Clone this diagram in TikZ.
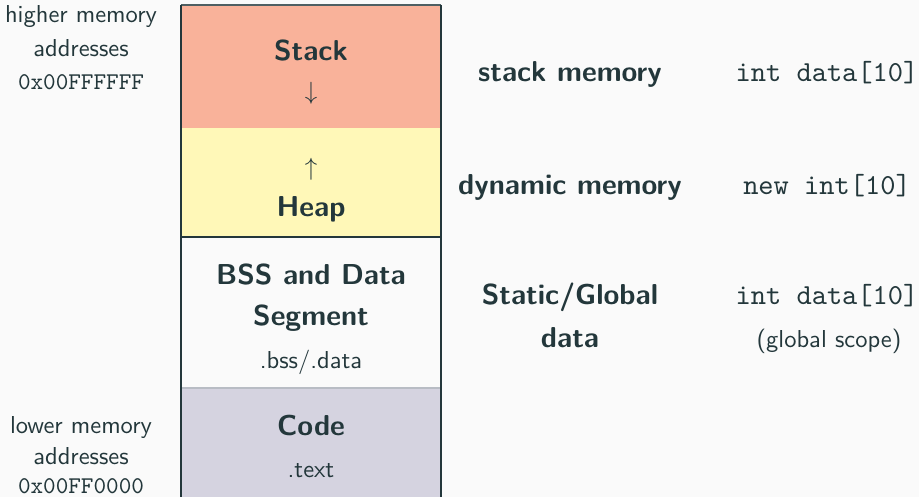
\documentclass[tikz,border=0pt]{standalone}
\usepackage{fontspec}
\newfontfamily\lmsten{lmsans10-regular.otf}[BoldFont=lmsans10-bold.otf]
\newfontfamily\lmttten{lmmono10-regular.otf}
\definecolor{bgc}{HTML}{FAFAFA}
\definecolor{fg}{HTML}{23373B}
\definecolor{stackc}{HTML}{F9B29A}
\definecolor{heapc}{HTML}{FFF8B8}
\definecolor{codec}{HTML}{D5D3E0}
\definecolor{sepc}{HTML}{B8BCC4}
\begin{document}
\begin{tikzpicture}[x=1pt,y=-1pt,
  every node/.style={text=fg, inner sep=0pt, outer sep=0pt},
  txt/.style={anchor=base, font=\lmsten\fontsize{24.5}{29}\selectfont},
  txtt/.style={anchor=base, font=\lmttten\fontsize{24}{29}\selectfont},
  big/.style={anchor=base, font=\lmsten\bfseries\fontsize{28.8}{35}\selectfont},
  bigtt/.style={anchor=base, font=\lmttten\fontsize{29}{35}\selectfont},
  seg/.style={draw=none, minimum width=260pt, anchor=north west}]
\fill[bgc] (0,0) rectangle (919,497);
\useasboundingbox (0,0) rectangle (919,497);
% segments
\node[seg, fill=stackc, minimum height=123pt] (stack) at (181,5) {};
\node[seg, fill=heapc, minimum height=109pt] (heap) at (181,128) {};
\node[seg, fill=bgc, minimum height=151pt] (bss) at (181,237) {};
\node[seg, fill=codec, minimum height=112pt] (code) at (181,388) {};
\draw[sepc, line width=1.2pt] (code.north west) -- (code.north east);
\draw[fg, line width=1.2pt] (bss.north west) -- (bss.north east);
\draw[fg!80, line width=1.2pt] (stack.north west) -- (stack.north east);
\draw[fg, line width=1.5pt] (stack.north west) -- (code.south west);
\draw[fg, line width=1.5pt] (stack.north east) -- (code.south east);
% segment texts
\node[big] (tstack) at (311,61) {Stack};
\node[big] (astack) at (311,100) {$\downarrow$};
\node[big] (aheap) at (311,176) {$\uparrow$};
\node[big] (theap) at (311,217) {Heap};
\node[big] (tbss1) at (311,285) {BSS and Data};
\node[big] (tbss2) at (311,326) {Segment};
\node[txt] (tbss3) at (311,368) {.bss/.data};
\node[big] (tcode) at (311,435) {Code};
\node[txt] (tcode2) at (311,477) {.text};
% left labels
\node[txt] (hi1) at (81,23) {higher memory};
\node[txt] (hi2) at (81,57) {addresses};
\node[txtt] (hi3) at (81,90) {0x00FFFFFF};
\node[txt] (lo1) at (81,433) {lower memory};
\node[txt] (lo2) at (81,464) {addresses};
\node[txtt] (lo3) at (81,493) {0x00FF0000};
% right column 1
\node[big] (r1) at (570,82) {stack memory};
\node[big] (r2) at (570,195) {dynamic memory};
\node[big] (r3a) at (570,305) {Static/Global};
\node[big] (r3b) at (570,347) {data};
% right column 2
\node[bigtt] (c1) at (827,82) {int data[10]};
\node[bigtt] (c2) at (827,195) {new int[10]};
\node[bigtt] (c3a) at (827,305) {int data[10]};
\node[txt] (c3b) at (829,347) {(global scope)};
\end{tikzpicture}
\end{document}
